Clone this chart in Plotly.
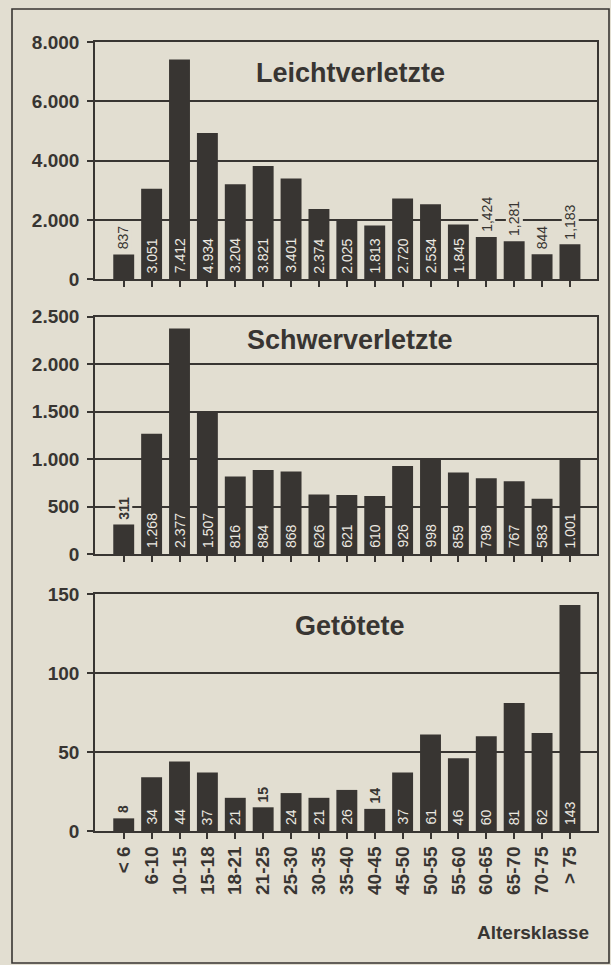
import plotly.graph_objects as go

# ---------------- data ----------------
categories = ["< 6", "6-10", "10-15", "15-18", "18-21", "21-25", "25-30", "30-35", "35-40",
              "40-45", "45-50", "50-55", "55-60", "60-65", "65-70", "70-75", "> 75"]

leicht_values = [837, 3051, 7412, 4934, 3204, 3821, 3401, 2374, 2025, 1813, 2720, 2534, 1845,
                 1424, 1281, 844, 1183]
leicht_labels = ["837", "3.051", "7.412", "4.934", "3.204", "3.821", "3.401", "2.374", "2.025",
                 "1.813", "2.720", "2.534", "1.845", "1,424", "1,281", "844", "1,183"]

schwer_values = [311, 1268, 2377, 1507, 816, 884, 868, 626, 621, 610, 926, 998, 859, 798, 767,
                 583, 1001]
schwer_labels = ["311", "1.268", "2.377", "1.507", "816", "884", "868", "626", "621", "610",
                 "926", "998", "859", "798", "767", "583", "1.001"]

tot_values = [8, 34, 44, 37, 21, 15, 24, 21, 26, 14, 37, 61, 46, 60, 81, 62, 143]
tot_labels = ["8", "34", "44", "37", "21", "15", "24", "21", "26", "14", "37", "61", "46", "60",
              "81", "62", "143"]

panel_titles = ["Leichtverletzte", "Schwerverletzte", "Getötete"]
y_max = [8000, 2500, 150]
y_dtick = [2000, 500, 50]
x_title = "Altersklasse"

# ---------------- style ----------------
W, H = 611, 965
ML, MR, MT, MB = 95, 14, 42, 134
PAPER = "#e2ded1"
INK = "#383532"
LABEL_WHITE = "#ece9e1"
FONT = "Liberation Sans, Arial, sans-serif"
outside_threshold = [1500, 500, 20]     # bars shorter than this carry their label above
outside_bold = [False, True, True]

plot_h = H - MT - MB
pw = W - ML - MR
def frac(py):
    return (H - MB - py) / plot_h

domains = [[frac(279.3), 1.0], [frac(554.0), frac(316.7)], [0.0, frac(594.0)]]
title_ypix = [73, 340, 626]
title_top = [41.7, 316.7, 594.0]
title_bot = [279.3, 554.0, 830.7]

series = [(leicht_values, leicht_labels), (schwer_values, schwer_labels), (tot_values, tot_labels)]

fig = go.Figure()
annotations = []
for i, (vals, labs) in enumerate(series):
    ax = "" if i == 0 else str(i + 1)
    fig.add_trace(go.Bar(
        x=categories, y=vals,
        marker=dict(color=INK, line=dict(width=0)),
        width=0.75, showlegend=False, hoverinfo="skip",
        xaxis="x" + ax, yaxis="y" + ax,
    ))
    for c, v, t in zip(categories, vals, labs):
        outside = v < outside_threshold[i]
        if outside:
            annotations.append(dict(
                x=c, y=v, xref="x" + ax, yref="y" + ax, text=t, textangle=-90,
                xanchor="center", yanchor="bottom", yshift=4, showarrow=False,
                bgcolor=PAPER, borderpad=0,
                font=dict(family=FONT, size=14, color=INK,
                          weight="bold" if outside_bold[i] else "normal"),
            ))
        else:
            annotations.append(dict(
                x=c, y=0, xref="x" + ax, yref="y" + ax, text=t, textangle=-90,
                xanchor="center", yanchor="bottom", yshift=4, showarrow=False,
                font=dict(family=FONT, size=14, color=LABEL_WHITE),
            ))

axis_common = dict(showline=True, mirror=True, linecolor=INK, linewidth=1.6,
                   ticks="outside", ticklen=6, tickwidth=1.6, tickcolor=INK)

layout = dict(
    width=W, height=H,
    margin=dict(l=ML, r=MR, t=MT, b=MB),
    paper_bgcolor=PAPER, plot_bgcolor=PAPER,
    separators=",.",
    font=dict(family=FONT, color=INK),
)
for i in range(3):
    ax = "" if i == 0 else str(i + 1)
    layout["xaxis" + ax] = dict(
        axis_common, domain=[0, 1], anchor="y" + ax,
        range=[-1.03, 16.97], type="category",
        showticklabels=(i == 2), tickangle=-90,
        tickfont=dict(family=FONT, size=19, color=INK, weight="bold"),
        showgrid=False,
    )
    layout["yaxis" + ax] = dict(
        axis_common, domain=domains[i], anchor="x" + ax,
        range=[0, y_max[i]], dtick=y_dtick[i], tick0=0,
        separatethousands=True, tickformat=",d",
        showgrid=True, gridcolor=INK, gridwidth=1.5,
        zeroline=False,
        tickfont=dict(family=FONT, size=19, color=INK, weight="bold"),
        ticklabelstandoff=4,
    )

for i in range(3):
    ax = "" if i == 0 else str(i + 1)
    yd = (title_bot[i] - title_ypix[i]) / (title_bot[i] - title_top[i])
    annotations.append(dict(
        text=panel_titles[i], xref="x" + ax + " domain", yref="y" + ax + " domain",
        x=(350 - ML) / pw, y=yd, xanchor="center", yanchor="middle",
        showarrow=False, font=dict(family=FONT, size=27, color=INK, weight="bold"),
    ))
annotations.append(dict(
    text=x_title, xref="paper", yref="paper",
    x=(591 - ML) / pw, y=frac(932), xanchor="right", yanchor="middle",
    showarrow=False, font=dict(family=FONT, size=19, color=INK, weight="bold"),
))
layout["annotations"] = annotations

layout["shapes"] = [dict(
    type="rect", xref="paper", yref="paper",
    x0=(12 - ML) / pw, x1=(609 - ML) / pw, y0=frac(963), y1=frac(9),
    line=dict(color=INK, width=1.6), fillcolor="rgba(0,0,0,0)", layer="below",
)]

fig.update_layout(**layout)
fig.write_html("out.html", config={"displayModeBar": False},
               post_script="document.body.style.margin='0';document.body.style.background='%s';" % PAPER)
